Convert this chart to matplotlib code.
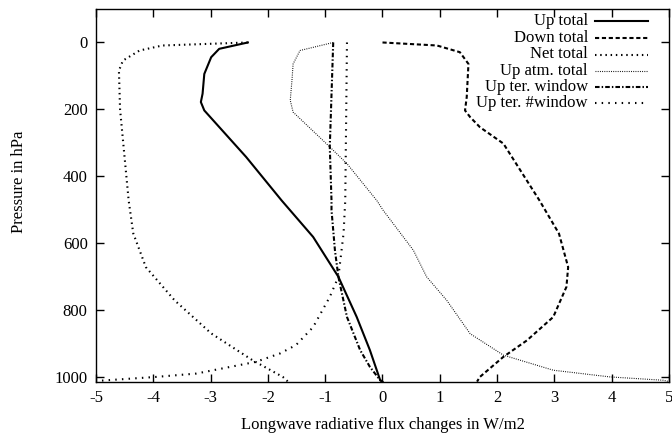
import matplotlib
matplotlib.use("Agg")
import matplotlib.pyplot as plt
from matplotlib.lines import Line2D

plt.rcParams['font.family'] = ['Liberation Serif', 'DejaVu Serif']

# Up total (solid)
p_up = [0, 19, 44, 94, 153, 178, 203, 342, 472, 581, 700, 820, 919, 1009, 1013]
up_total = [-2.35, -2.85, -2.99, -3.11, -3.14, -3.17, -3.11, -2.38, -1.76, -1.21, -0.77, -0.45, -0.22, -0.04, 0.0]

# Down total (dashed)
p_down = [0, 9, 29, 64, 163, 203, 223, 253, 302, 472, 571, 671, 730, 820, 890, 939, 999, 1013]
down_total = [0.0, 0.95, 1.35, 1.50, 1.47, 1.44, 1.53, 1.70, 2.11, 2.74, 3.08, 3.24, 3.21, 2.98, 2.52, 2.11, 1.70, 1.65]

# Net total (dotted)
p_net = [0, 9, 24, 54, 84, 200, 472, 570, 671, 770, 869, 949, 999, 1013]
net_total = [-2.35, -3.84, -4.24, -4.53, -4.60, -4.58, -4.43, -4.35, -4.13, -3.63, -2.99, -2.27, -1.74, -1.65]

# Up atm. total (fine dotted)
p_atm = [0, 24, 64, 113, 173, 208, 312, 362, 472, 501, 621, 700, 770, 870, 934, 979, 999, 1009, 1013]
up_atm = [-0.86, -1.44, -1.56, -1.58, -1.61, -1.56, -0.92, -0.62, -0.10, 0.01, 0.54, 0.77, 1.12, 1.53, 2.11, 2.98, 3.97, 4.9, 5.0]

# Up ter. window (dash-dot)
p_win = [0, 312, 472, 501, 621, 700, 820, 919, 969, 1009, 1013]
up_ter_window = [-0.86, -0.92, -0.89, -0.89, -0.83, -0.77, -0.62, -0.39, -0.22, -0.04, 0.0]

# Up ter. #window (dotted)
p_nwin = [0, 472, 571, 700, 760, 850, 904, 929, 954, 989, 999, 1010, 1013]
up_ter_nowindow = [-0.62, -0.65, -0.68, -0.77, -0.92, -1.21, -1.51, -1.79, -2.21, -3.25, -3.95, -4.9, -5.0]

labels = ['Up total', 'Down total', 'Net total', 'Up atm. total', 'Up ter. window', 'Up ter. #window']
xticks = [-5, -4, -3, -2, -1, 0, 1, 2, 3, 4, 5]
yticks = [0, 200, 400, 600, 800, 1000]

W, H = 672, 434
fig = plt.figure(figsize=(W/100, H/100), dpi=100)
ax = fig.add_axes([96/W, 1-381.6/H, (669-96)/W, (381.6-9)/H])

styles = [
    dict(lw=1.5, ls='-'),
    dict(lw=1.5, ls=(0, (2.0, 1.3))),
    dict(lw=1.5, ls=(0, (0.7, 1.8))),
    dict(lw=0.8, ls=(0, (0.8, 1.2))),
    dict(lw=1.5, ls=(0, (2.2, 1.0, 0.7, 1.0))),
    dict(lw=1.5, ls=(0, (0.7, 2.5))),
]
series = [(up_total, p_up), (down_total, p_down), (net_total, p_net),
          (up_atm, p_atm), (up_ter_window, p_win), (up_ter_nowindow, p_nwin)]

for (xv, pv), st in zip(series, styles):
    ax.plot(xv, pv, color='black', **st)

ax.set_xlim(-5, 5)
ax.set_ylim(1013, -100)
ax.set_xticks(xticks)
ax.set_xticklabels([str(t) for t in xticks])
ax.set_yticks(yticks)
ax.tick_params(direction='in', length=6, width=1, top=True, right=True, labelsize=12, pad=6)
for s in ax.spines.values():
    s.set_linewidth(1.0)

ax.set_xlabel('Longwave radiative flux changes in W/m2', fontsize=12, labelpad=8)
ax.set_ylabel('Pressure in hPa', fontsize=12)
ax.yaxis.set_label_coords(-0.12, 0.536)

# gnuplot-style key: right-aligned text with sample line to the right
row_y = [21, 38, 54.5, 71, 87, 103]
for lab, st, yy in zip(labels, styles, row_y):
    fig.text(588/W, 1-yy/H, lab, ha='right', va='center', fontsize=12)
    fig.add_artist(Line2D([595/W, 648/W], [1-yy/H, 1-yy/H], color='black',
                          transform=fig.transFigure, **st))

fig.savefig('out.png', dpi=100)
